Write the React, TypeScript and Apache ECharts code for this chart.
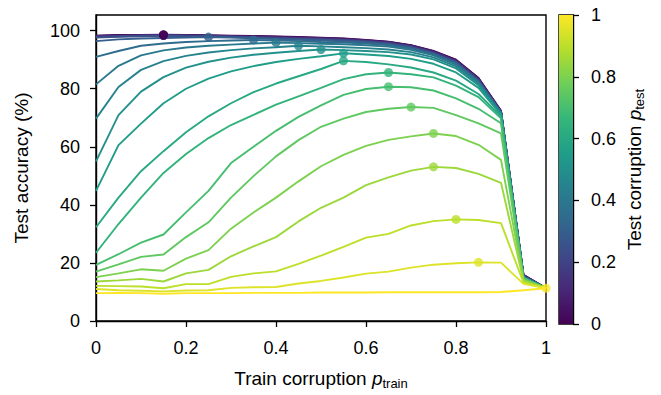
import React, { useEffect, useRef } from "react";
import * as echarts from "echarts";

// Train corruption levels (x)
const pTrain = [0, 0.05, 0.1, 0.15, 0.2, 0.25, 0.3, 0.35, 0.4, 0.45, 0.5, 0.55, 0.6, 0.65, 0.7, 0.75, 0.8, 0.85, 0.9, 0.95, 1];
// Test corruption levels (one line each)
const pTest = [0, 0.05, 0.1, 0.15, 0.2, 0.25, 0.3, 0.35, 0.4, 0.45, 0.5, 0.55, 0.6, 0.65, 0.7, 0.75, 0.8, 0.85, 0.9, 0.95, 1];

// Test accuracy (%) for each test corruption level
const acc00 = [98.3, 98.5, 98.5, 98.6, 98.5, 98.4, 98.3, 98.2, 98.0, 97.8, 97.6, 97.3, 96.8, 96.2, 95.0, 93.0, 90.0, 83.7, 72.4, 15.9, 11.3];
const acc05 = [98.2, 98.4, 98.4, 98.5, 98.4, 98.3, 98.2, 98.1, 97.9, 97.7, 97.5, 97.2, 96.7, 96.1, 94.9, 92.9, 89.9, 83.6, 72.3, 15.8, 11.3];
const acc10 = [98.1, 98.3, 98.4, 98.5, 98.4, 98.3, 98.1, 97.9, 97.8, 97.6, 97.4, 97.1, 96.6, 96.0, 94.8, 92.8, 89.7, 83.4, 72.2, 15.7, 11.3];
const acc15 = [98.0, 98.2, 98.3, 98.4, 98.3, 98.2, 98.0, 97.8, 97.6, 97.4, 97.2, 96.9, 96.5, 95.9, 94.6, 92.6, 89.5, 83.2, 72.1, 15.6, 11.3];
const acc20 = [97.8, 98.1, 98.2, 98.4, 98.2, 98.1, 97.9, 97.7, 97.5, 97.3, 97.1, 96.8, 96.3, 95.7, 94.5, 92.4, 89.3, 83.0, 72.0, 15.5, 11.3];
const acc25 = [97.6, 97.9, 98.1, 98.3, 98.1, 98.0, 97.8, 97.6, 97.3, 97.1, 96.9, 96.6, 96.2, 95.5, 94.3, 92.2, 89.1, 82.8, 71.9, 15.4, 11.3];
const acc30 = [96.4, 97.0, 97.3, 97.5, 97.6, 97.8, 97.6, 97.4, 97.1, 96.9, 96.6, 96.3, 95.9, 95.3, 94.1, 92.0, 88.9, 82.6, 71.8, 15.3, 11.3];
const acc35 = [91.0, 93.0, 94.8, 95.6, 96.1, 96.4, 96.6, 96.8, 96.6, 96.4, 96.1, 95.9, 95.6, 95.0, 93.8, 91.8, 88.6, 82.4, 71.7, 15.2, 11.3];
const acc40 = [81.5, 87.9, 91.5, 93.2, 94.2, 94.8, 95.2, 95.6, 95.9, 95.7, 95.5, 95.3, 95.0, 94.5, 93.4, 91.5, 88.3, 82.2, 71.6, 15.1, 11.3];
const acc45 = [69.7, 80.6, 86.5, 89.5, 91.3, 92.5, 93.3, 93.9, 94.3, 94.8, 94.6, 94.3, 94.0, 93.5, 92.6, 90.8, 87.7, 81.7, 71.4, 15.0, 11.3];
const acc50 = [55.0, 70.9, 79.0, 84.0, 87.3, 89.3, 90.7, 91.7, 92.4, 93.0, 93.5, 93.3, 93.0, 92.6, 91.8, 90.1, 87.0, 81.2, 71.2, 14.9, 11.3];
const acc55 = [44.8, 60.6, 68.0, 75.0, 80.0, 83.5, 86.0, 87.8, 89.2, 90.3, 91.2, 92.2, 91.8, 91.3, 90.3, 88.6, 85.6, 80.3, 71.0, 14.8, 11.3];
const acc60 = [32.3, 42.5, 51.6, 58.5, 65.0, 70.5, 75.0, 78.8, 81.8, 84.3, 86.8, 89.6, 89.2, 88.4, 87.3, 85.6, 82.8, 78.2, 70.5, 14.9, 11.3];
const acc65 = [23.5, 33.4, 42.5, 51.0, 57.5, 63.0, 67.5, 71.0, 74.5, 77.4, 80.3, 83.3, 85.0, 85.6, 85.0, 83.9, 81.1, 77.1, 69.8, 14.8, 11.3];
const acc70 = [19.3, 23.0, 27.0, 29.8, 37.4, 44.8, 54.4, 60.0, 65.5, 70.3, 74.3, 77.9, 79.9, 80.7, 80.5, 79.4, 76.7, 73.1, 68.1, 14.7, 11.3];
const acc75 = [17.0, 19.5, 22.1, 22.9, 28.9, 34.0, 42.5, 49.9, 56.7, 62.3, 66.9, 69.7, 72.0, 73.1, 73.7, 73.4, 70.9, 68.1, 64.6, 14.5, 11.3];
const acc80 = [15.1, 16.4, 17.8, 17.3, 21.5, 24.4, 31.8, 37.4, 42.5, 48.1, 53.3, 57.2, 60.3, 62.4, 63.6, 64.6, 63.7, 60.7, 55.5, 14.2, 11.3];
const acc85 = [13.6, 14.0, 14.5, 13.6, 16.4, 17.6, 22.3, 25.7, 28.9, 34.3, 39.0, 42.5, 46.8, 49.5, 51.8, 53.1, 52.7, 50.7, 47.6, 13.8, 11.3];
const acc90 = [12.1, 12.0, 11.9, 11.3, 12.7, 12.7, 15.2, 16.4, 17.1, 19.7, 22.5, 25.5, 28.7, 30.0, 32.9, 34.4, 35.0, 34.8, 33.7, 13.2, 11.3];
const acc95 = [11.0, 10.6, 10.4, 10.2, 10.5, 10.6, 11.4, 11.6, 11.7, 12.9, 13.8, 15.0, 16.3, 17.0, 18.4, 19.4, 19.9, 20.2, 20.1, 12.8, 11.3];
const acc100 = [9.6, 9.7, 9.6, 9.4, 9.6, 9.6, 9.6, 9.7, 9.7, 9.7, 9.8, 9.8, 9.8, 9.9, 9.9, 9.9, 9.9, 9.9, 10.0, 10.6, 11.3];

const lines = [acc00, acc05, acc10, acc15, acc20, acc25, acc30, acc35, acc40, acc45, acc50, acc55, acc60, acc65, acc70, acc75, acc80, acc85, acc90, acc95, acc100];

// Tick labels
const yTicks = [0, 20, 40, 60, 80, 100];
const colorbarTicks = [0, 0.2, 0.4, 0.6, 0.8, 1];
const colorbarValue = [1];

const VIR = ["#440154", "#482878", "#3e4989", "#31688e", "#26828e", "#1f9e89", "#35b779", "#6ece58", "#b5de2b", "#fde725"];
function hexToRgb(h: string) {
  return [parseInt(h.slice(1, 3), 16), parseInt(h.slice(3, 5), 16), parseInt(h.slice(5, 7), 16)];
}
function viridis(t: number) {
  const s = Math.max(0, Math.min(1, t)) * (VIR.length - 1);
  const i = Math.min(Math.floor(s), VIR.length - 2);
  const f = s - i;
  const a = hexToRgb(VIR[i]);
  const b = hexToRgb(VIR[i + 1]);
  const c = a.map((v, k) => Math.round(v + (b[k] - v) * f));
  return `rgb(${c[0]},${c[1]},${c[2]})`;
}

const FONT = "Liberation Sans";
const FS = 18;
const TFS = 19;

export default function App() {
  const ref = useRef<HTMLDivElement>(null);
  useEffect(() => {
    document.body.style.margin = "0";
    if (!ref.current) return;
    const chart = echarts.init(ref.current, undefined, { renderer: "svg" });

    const series: any[] = [];
    lines.forEach((vals, k) => {
      series.push({
        type: "line",
        xAxisIndex: 0,
        yAxisIndex: 0,
        data: pTrain.map((x, i) => [x, vals[i]]),
        showSymbol: false,
        symbol: "none",
        silent: true,
        lineStyle: { width: 1.9, color: viridis(pTest[k]) },
        z: 2,
      });
    });

    const markers = lines
      .map((vals, k) => {
        let best = 0;
        vals.forEach((v, i) => {
          if (v > vals[best]) best = i;
        });
        return { value: [pTrain[best], vals[best]], itemStyle: { color: viridis(pTest[k]) } };
      })
      .reverse();
    series.push({
      type: "scatter",
      xAxisIndex: 0,
      yAxisIndex: 0,
      data: markers,
      symbolSize: 9,
      silent: true,
      z: 3,
    });

    series.push({
      type: "bar",
      xAxisIndex: 1,
      yAxisIndex: 1,
      data: colorbarValue,
      barWidth: "100%",
      silent: true,
      itemStyle: {
        color: new echarts.graphic.LinearGradient(
          0,
          1,
          0,
          0,
          VIR.map((c, i) => ({ offset: i / (VIR.length - 1), color: c }))
        ),
      },
    });

    const sub = {
      n: { fontFamily: FONT, fontSize: TFS, color: "#000" },
      i: { fontFamily: FONT, fontSize: TFS, color: "#000", fontStyle: "italic" },
      s: { fontFamily: FONT, fontSize: 13, color: "#000", padding: [10, 0, 0, 0] },
    };

    chart.setOption({
      animation: false,
      backgroundColor: "#fff",
      grid: [
        { left: 96, right: 115, top: 15, bottom: 70, show: true, borderColor: "#000", borderWidth: 1.4 },
        { left: 559, width: 14, top: 15, bottom: 71, show: true, borderColor: "#000", borderWidth: 1.4 },
      ],
      xAxis: [
        {
          type: "value",
          gridIndex: 0,
          min: 0,
          max: 1,
          interval: 0.2,
          axisLine: { show: true, onZero: false, lineStyle: { color: "#000", width: 1.4 } },
          axisTick: { show: true, length: 6, lineStyle: { color: "#000", width: 1.3 } },
          axisLabel: { color: "#000", fontFamily: FONT, fontSize: FS, margin: 18 },
          splitLine: { show: false },
          name: "{n|Train corruption }{i|p}{s|train}",
          nameLocation: "middle",
          nameGap: 46,
          nameTextStyle: { rich: sub },
        },
        {
          type: "category",
          gridIndex: 1,
          data: ["c"],
          show: false,
        },
      ],
      yAxis: [
        {
          type: "value",
          gridIndex: 0,
          min: 0,
          max: 105.4,
          axisLine: { show: true, lineStyle: { color: "#000", width: 1.4 } },
          axisTick: { show: true, length: 6, lineStyle: { color: "#000", width: 1.3 }, customValues: yTicks },
          axisLabel: { color: "#000", fontFamily: FONT, fontSize: FS, margin: 16, customValues: yTicks },
          splitLine: { show: false },
          name: "Test accuracy (%)",
          nameLocation: "middle",
          nameGap: 65,
          nameRotate: 90,
          nameTextStyle: { color: "#000", fontFamily: FONT, fontSize: TFS },
        },
        {
          type: "value",
          gridIndex: 1,
          position: "right",
          min: 0,
          max: 1,
          interval: 0.2,
          axisLine: { show: true, lineStyle: { color: "#000", width: 1.4 } },
          axisTick: { show: true, length: 6, lineStyle: { color: "#000", width: 1.3 }, customValues: colorbarTicks },
          axisLabel: { color: "#000", fontFamily: FONT, fontSize: FS, margin: 18, customValues: colorbarTicks },
          splitLine: { show: false },
          name: "{n|Test corruption }{i|p}{s|test}",
          nameLocation: "middle",
          nameGap: 50,
          nameRotate: 90,
          nameTextStyle: { rich: sub },
        },
      ],
      series,
    });
    return () => chart.dispose();
  }, []);
  return <div ref={ref} style={{ width: 661, height: 395 }} />;
}
